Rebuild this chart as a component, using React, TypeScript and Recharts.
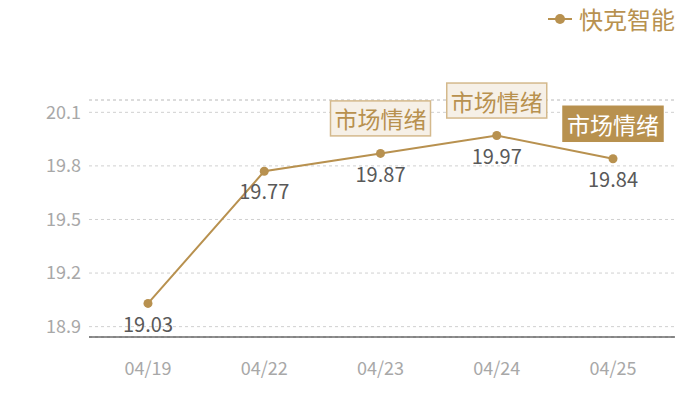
import { LineChart, Line, XAxis, YAxis, CartesianGrid, LabelList, ReferenceLine } from 'recharts';

const dates = ['04/19', '04/22', '04/23', '04/24', '04/25'];
const prices = [19.03, 19.77, 19.87, 19.97, 19.84];
const tags = ['', '', '市场情绪', '市场情绪', '市场情绪'];
const highlightDate = '04/25';
const yTicks = [18.9, 19.2, 19.5, 19.8, 20.1];
const yMin = 18.842;
const yMax = 20.169;
const seriesName = '快克智能';

const GOLD = '#b8914f';
const FONT = '"Noto Sans CJK SC", "Noto Sans", sans-serif';

const chartData = dates.map((d, i) => ({ date: d, price: prices[i], tag: tags[i] }));

// tag box sitting above a point
const TagLabel = (props: any) => {
  const { x, y, value, index } = props;
  if (!value) return null;
  const dark = chartData[index].date === highlightDate;
  const w = 100;
  const h = 35;
  const cy = y - 35;
  return (
    <g>
      <rect
        x={x - w / 2}
        y={cy - h / 2}
        width={w}
        height={h}
        fill={dark ? GOLD : '#f6f0e7'}
        stroke={dark ? GOLD : '#d4b98c'}
        strokeWidth={1.5}
      />
      <text
        x={x}
        y={cy}
        textAnchor="middle"
        dominantBaseline="central"
        fill={dark ? '#fff' : GOLD}
        fontSize={23}
        fontFamily={FONT}
      >
        {value}
      </text>
    </g>
  );
};

export default function App() {
  return (
    <div style={{ position: 'absolute', left: 0, top: 0, width: 700, height: 400, background: '#fff', fontFamily: FONT }}>
      <LineChart width={700} height={400} data={chartData} margin={{ top: 100, right: 25, bottom: 33, left: 0 }}>
        <CartesianGrid vertical={false} stroke="#d0d0d0" strokeDasharray="3 3" />
        <ReferenceLine y={yMax} stroke="#d0d0d0" strokeDasharray="3 3" />
        <XAxis
          dataKey="date"
          height={30}
          padding={{ left: 59, right: 62 }}
          axisLine={{ stroke: '#222' }}
          tickLine={false}
          tickSize={0}
          tickMargin={25}
          tick={{ fill: '#a8a8a8', fontSize: 18, fontFamily: FONT }}
        />
        <YAxis
          width={89}
          domain={[yMin, yMax]}
          ticks={yTicks}
          axisLine={false}
          tickLine={false}
          tick={{ fill: '#a8a8a8', fontSize: 18, fontFamily: FONT }}
          allowDataOverflow
        />
        <Line
          type="linear"
          dataKey="price"
          name={seriesName}
          stroke={GOLD}
          strokeWidth={2}
          dot={{ r: 4.5, fill: GOLD, stroke: GOLD, strokeWidth: 0 }}
          activeDot={false}
          isAnimationActive={false}
        >
          <LabelList dataKey="price" position="bottom" offset={14} fill="#595959" fontSize={20} fontFamily={FONT} />
          <LabelList dataKey="tag" content={TagLabel} />
        </Line>
      </LineChart>
      <div style={{ position: 'absolute', top: 1, right: 25, display: 'flex', alignItems: 'center', color: GOLD, fontSize: 24, fontFamily: FONT }}>
        <svg width={26} height={14} style={{ marginRight: 5 }}>
          <line x1={0} y1={7} x2={24} y2={7} stroke={GOLD} strokeWidth={2} />
          <circle cx={12} cy={7} r={5} fill={GOLD} />
        </svg>
        <span>{seriesName}</span>
      </div>
    </div>
  );
}
